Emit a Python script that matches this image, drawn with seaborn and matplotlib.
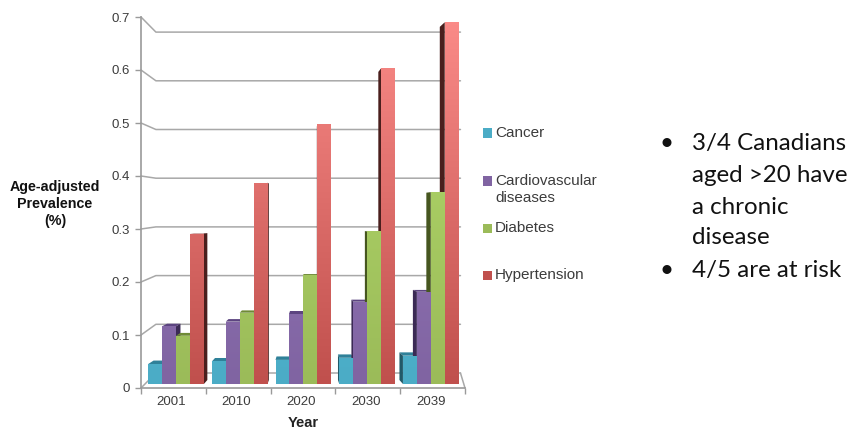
import numpy as np
import pandas as pd
import matplotlib
matplotlib.use("Agg")
import matplotlib.pyplot as plt
from matplotlib.colors import LinearSegmentedColormap
from matplotlib.patches import Polygon, Rectangle
import seaborn as sns

years = ["2001", "2010", "2020", "2030", "2039"]
diseases = ["Cancer", "Cardiovascular\ndiseases", "Diabetes", "Hypertension"]
cancer = [0.038, 0.043, 0.046, 0.050, 0.054]
cardiovascular = [0.110, 0.119, 0.134, 0.157, 0.176]
diabetes = [0.092, 0.136, 0.207, 0.291, 0.366]
hypertension = [0.287, 0.384, 0.495, 0.602, 0.690]
y_ticks = [0, 0.1, 0.2, 0.3, 0.4, 0.5, 0.6, 0.7]
y_tick_labels = ["0", "0.1", "0.2", "0.3", "0.4", "0.5", "0.6", "0.7"]
colors = ["#4bacc6", "#8064a2", "#9bbb59", "#c0504d"]
light_colors = ["#5cc4de", "#9a7cc0", "#b4dc6c", "#fb8b88"]
side_colors = ["#215968", "#3b2a55", "#46561f", "#4a1f1d"]
top_colors = ["#2f8199", "#5c4480", "#6f8a36", "#933b39"]
bullets = ["3/4 Canadians\naged >20 have\na chronic\ndisease", "4/5 are at risk"]

W, H = 852, 432
sns.set_theme(style="white")
plt.rcParams["font.family"] = ["Liberation Sans", "DejaVu Sans"]
fig = plt.figure(figsize=(W / 100, H / 100), dpi=100)


def axes_px(left, right, top, bottom, **kw):
    return fig.add_axes([left / W, 1 - bottom / H, (right - left) / W, (bottom - top) / H], **kw)


# Axis frame: value scale on the front edge of the floor
frame = axes_px(141, 465, 17, 388)
frame.set_xlim(0, 5)
frame.set_ylim(0, 0.7)
frame.patch.set_visible(False)
sns.despine(ax=frame, right=True, top=True)
for side in ("left", "bottom"):
    frame.spines[side].set_color("#9a9a9a")
    frame.spines[side].set_linewidth(1.2)
frame.set_yticks(y_ticks, y_tick_labels)
frame.set_xticks(np.arange(6))
frame.set_xticklabels([])
frame.set_xticks(np.arange(5) + 0.47, years, minor=True)
frame.tick_params(axis="y", length=4, width=1, color="#9a9a9a", labelcolor="#3c3c3c", labelsize=9.5, pad=4, left=True)
frame.tick_params(axis="x", which="major", length=4, width=1, color="#9a9a9a", bottom=True)
frame.tick_params(axis="x", which="minor", length=0, labelcolor="#3c3c3c", labelsize=9.5, pad=6)

# Receding gridlines: each tick runs back to the rear wall, then across it
back_span = 487 / 530
back_lift = 15 / 530
for v in y_ticks:
    rear = v * back_span + back_lift
    frame.plot([0, 0.23, 4.93], [v, rear, rear], color="#a8a8a8", lw=1.1, clip_on=False, zorder=1)
frame.plot([5, 4.93], [0, back_lift], color="#a8a8a8", lw=1.1, clip_on=False, zorder=1)

# Bars on their own plane just behind the front edge
ax = axes_px(144.15, 462.65, 17, 384)
ax.patch.set_visible(False)
table = pd.DataFrame({
    "Year": np.repeat(years, len(diseases)),
    "Disease": diseases * len(years),
    "Prevalence": np.array([cancer, cardiovascular, diabetes, hypertension]).T.ravel(),
})
sns.barplot(data=table, x="Year", y="Prevalence", hue="Disease", order=years, hue_order=diseases,
            palette=colors, width=0.875, gap=0, saturation=1, ax=ax, zorder=4, legend=False)
ax.set_xlim(-0.5, 4.5)
ax.set_ylim(0, 0.7)
ax.axis("off")

# Extrude each bar towards the vanishing point; the eye sits near value 0.32,
# so tops are seen from above below that level and hidden above it
px_y = 367 / 0.7
centre = 2.0
depth = 0.035
floor_rise = 4 / px_y
eye_level = 0.32
for k, bars in enumerate(ax.containers):
    wash = LinearSegmentedColormap.from_list("wash", [colors[k], light_colors[k]])
    for rect in bars:
        x0, x1 = rect.get_x(), rect.get_x() + rect.get_width()
        top = rect.get_height()
        rise = floor_rise * (1 - top / eye_level)
        off0, off1 = (centre - x0) * depth, (centre - x1) * depth
        if rise > 0:
            ax.add_patch(Polygon([(x0, top), (x1, top), (x1 + off1, top + rise), (x0 + off0, top + rise)],
                                 fc=top_colors[k], ec="none", zorder=3, clip_on=False))
        if off1 > 0:
            ax.add_patch(Polygon([(x1, 0), (x1, top), (x1 + off1, top + rise), (x1 + off1, floor_rise)],
                                 fc=side_colors[k], ec="none", zorder=3, clip_on=False))
        if off0 < 0:
            ax.add_patch(Polygon([(x0, 0), (x0, top), (x0 + off0, top + rise), (x0 + off0, floor_rise)],
                                 fc=side_colors[k], ec="none", zorder=3, clip_on=False))
        rect.set_visible(False)
        grad = np.linspace(1, 0, 128).reshape(-1, 1)
        im = ax.imshow(grad, extent=(x0, x1, 0, 0.7), origin="upper", aspect="auto", cmap=wash,
                       vmin=0, vmax=1, zorder=4)
        im.set_clip_path(Rectangle((x0, 0), x1 - x0, top, transform=ax.transData))
ax.set_xlim(-0.5, 4.5)
ax.set_ylim(0, 0.7)

for line, y in zip(["Age-adjusted", "Prevalence", "(%)"], [187, 204, 221]):
    fig.text(55 / W, 1 - y / H, line, ha="center", va="center", fontsize=10.3, fontweight="bold", color="#111111")
fig.text(303 / W, 1 - 423 / H, "Year", ha="center", va="center", fontsize=10.5, fontweight="bold", color="#222222")

# Key with entries spaced individually, the swatch level with the first text line
key_rows = [133, 181, 228, 275]
for name, c, y in zip(diseases, colors, key_rows):
    fig.patches.append(Rectangle((483 / W, 1 - (y + 4.5) / H), 9 / W, 9 / H, fc=c, ec="none",
                                 transform=fig.transFigure, figure=fig))
    for i, line in enumerate(name.split("\n")):
        fig.text(495 / W, 1 - (y + 17 * i) / H, line, fontsize=11, color="#3c3c3c", va="center")

bullet_font = dict(fontsize=17.4, family="Lato", va="center", color="#111111")
rows = [143, 175, 207, 238]
fig.text(667 / W, 1 - rows[0] / H, "•", ha="center", **bullet_font)
for line, y in zip(bullets[0].split("\n"), rows):
    fig.text(692 / W, 1 - y / H, line, **bullet_font)
fig.text(667 / W, 1 - 270 / H, "•", ha="center", **bullet_font)
fig.text(692 / W, 1 - 270 / H, bullets[1], **bullet_font)

fig.savefig("out.png", dpi=100)
